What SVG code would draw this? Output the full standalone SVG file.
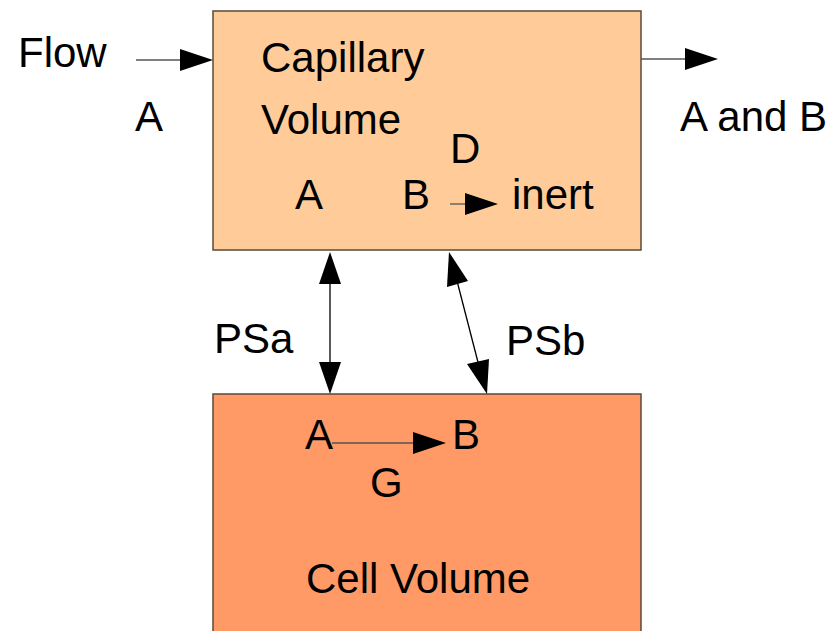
<svg xmlns="http://www.w3.org/2000/svg" width="838" height="631" viewBox="0 0 838 631">
<style>
text{font-family:"Liberation Sans",Arial,sans-serif;font-size:42px;fill:#000}
.box{stroke:#5a4a3a;stroke-width:1.5}
.ln{stroke:#555;stroke-width:1.3;fill:none}
.lnb{stroke:#000;stroke-width:1.3;fill:none}
.hd{fill:#000}
</style>
<rect width="838" height="631" fill="#fff"/>
<g id="capillary">
<rect class="box" x="213" y="11" width="428" height="239" fill="#ffcc99"/>
<text x="261" y="72">Capillary</text>
<text x="261" y="134">Volume</text>
<text x="450" y="163">D</text>
<text x="295" y="209">A</text>
<text x="402" y="209">B</text>
<text x="512" y="209">inert</text>
</g>
<g id="cell">
<rect class="box" x="213" y="394" width="428" height="250" fill="#ff9966"/>
<text x="305" y="449">A</text>
<text x="452" y="449">B</text>
<text x="370" y="497">G</text>
<text x="306" y="593">Cell Volume</text>
</g>
<g id="labels">
<text x="18" y="67">Flow</text>
<text x="135" y="131">A</text>
<text x="680" y="131">A and B</text>
<text x="214" y="353">PSa</text>
<text x="506" y="355">PSb</text>
</g>
<g id="connectors">
<line class="ln" x1="136" y1="60" x2="185" y2="60"/>
<polygon class="hd" points="180,49 213,60 180,71"/>
<line class="ln" x1="641" y1="59" x2="690" y2="59"/>
<polygon class="hd" points="685,48 718,59 685,70"/>
<line class="ln" x1="450" y1="204" x2="470" y2="204"/>
<polygon class="hd" points="465,193 498,204 465,215"/>
<line class="ln" x1="332" y1="443" x2="418" y2="443"/>
<polygon class="hd" points="413,432 446,443 413,454"/>
<line class="lnb" x1="330" y1="280" x2="330" y2="368"/>
<polygon class="hd" points="330,252 341,284 319,284"/>
<polygon class="hd" points="330,394 341,362 319,362"/>
<line class="lnb" x1="456" y1="277" x2="480" y2="370"/>
<polygon class="hd" points="449,252 468,281 447,287"/>
<polygon class="hd" points="487,394 467,364 489,359"/>
</g>
</svg>
